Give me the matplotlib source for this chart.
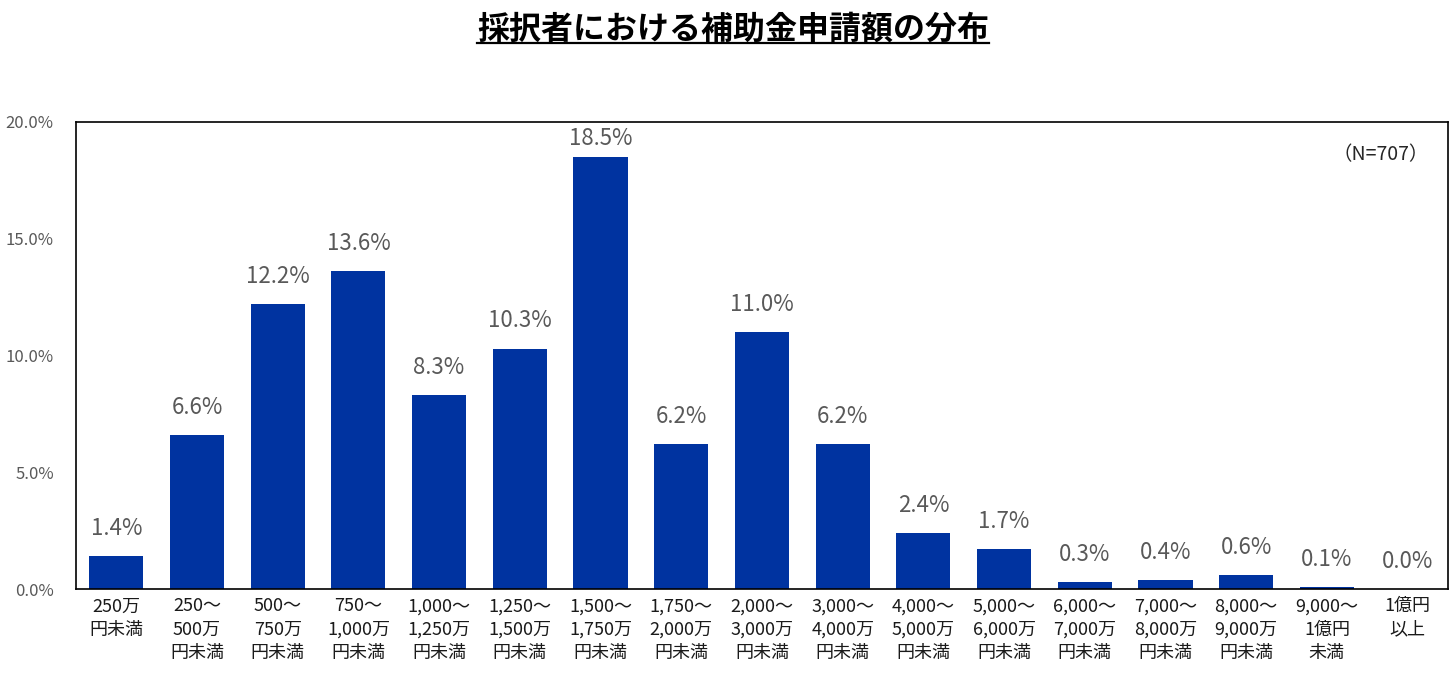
import matplotlib
matplotlib.use("Agg")
import matplotlib.pyplot as plt
from matplotlib.lines import Line2D

plt.rcParams['font.family'] = ['Noto Sans CJK JP', 'DejaVu Sans']

categories = [
    "250万\n円未満", "250〜\n500万\n円未満", "500〜\n750万\n円未満", "750〜\n1,000万\n円未満",
    "1,000〜\n1,250万\n円未満", "1,250〜\n1,500万\n円未満", "1,500〜\n1,750万\n円未満",
    "1,750〜\n2,000万\n円未満", "2,000〜\n3,000万\n円未満", "3,000〜\n4,000万\n円未満",
    "4,000〜\n5,000万\n円未満", "5,000〜\n6,000万\n円未満", "6,000〜\n7,000万\n円未満",
    "7,000〜\n8,000万\n円未満", "8,000〜\n9,000万\n円未満", "9,000〜\n1億円\n未満", "1億円\n以上",
]
values = [1.4, 6.6, 12.2, 13.6, 8.3, 10.3, 18.5, 6.2, 11.0, 6.2, 2.4, 1.7, 0.3, 0.4, 0.6, 0.1, 0.0]
yticks = [0, 5, 10, 15, 20]
title = "採択者における補助金申請額の分布"
note = "（N=707）"

fig = plt.figure(figsize=(14.52, 6.85), dpi=100)
ax = fig.add_axes([0.0523, 0.1401, 0.9449, 0.6818])

x = list(range(len(values)))
bars = ax.bar(x, values, width=0.67, color="#0033A0")
ax.set_xlim(-0.5, len(values) - 0.5)
ax.set_ylim(0, 20)
ax.set_yticks(yticks)
ax.set_yticklabels([f"{v:.1f}%" for v in yticks], color="#595959", fontsize=12)
ax.set_xticks(x)
ax.set_xticklabels(categories, fontsize=13, color="#1a1a1a", linespacing=1.38, va="top")
ax.tick_params(axis="both", length=0)
ax.tick_params(axis="x", pad=6)
ax.tick_params(axis="y", pad=16)
for s in ax.spines.values():
    s.set_color("black")
    s.set_linewidth(1.2)

# data labels sit ~30 px above the bar, but are kept inside the plot area
for xi, v in zip(x, values):
    ax.text(xi, min(v + 1.18, 19.3), f"{v:.1f}%", ha="center", va="center",
            fontsize=16, color="#595959")

ax.text(0.986, 0.93, note, transform=ax.transAxes, ha="right", va="center",
        fontsize=14, color="#262626")

t = fig.text(0.505, 0.957, title, ha="center", va="center", fontsize=23,
             fontweight="bold", color="black")
fig.canvas.draw()
bb = t.get_window_extent()
inv = fig.transFigure.inverted()
(x0, y0), (x1, y1) = inv.transform([(bb.x0, bb.y0), (bb.x1, bb.y1)])
fig.add_artist(Line2D([x0, x1], [y0 + 0.003, y0 + 0.003], color="black", linewidth=1.6,
                      transform=fig.transFigure))

fig.savefig("out.png", dpi=100)
